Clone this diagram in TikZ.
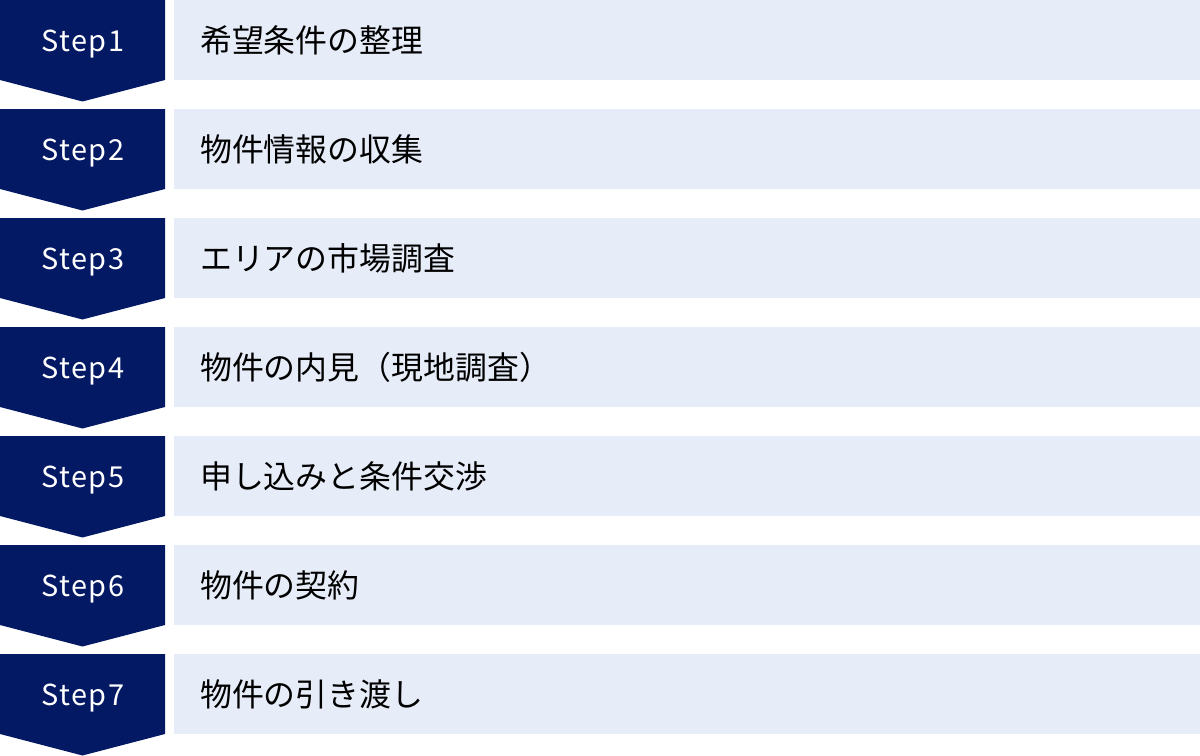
\documentclass[tikz,border=0pt]{standalone}
\usepackage{fontspec}
\setmainfont{Noto Sans}
\newfontfamily\jpfont{Noto Sans CJK JP}
\newfontfamily\stepfont[LetterSpace=5]{Noto Sans CJK JP}
\usetikzlibrary{positioning}
\definecolor{stepnavy}{RGB}{4,25,99}
\definecolor{boxblue}{RGB}{230,236,248}

\begin{document}
\begin{tikzpicture}[x=1bp,y=1bp,
  stepbox/.style={fill=stepnavy},
  taskbox/.style={fill=boxblue},
  steplabel/.style={text=white,font=\stepfont\fontsize{29}{32}\selectfont,anchor=base,inner sep=0pt},
  tasklabel/.style={text=black,font=\jpfont\fontsize{32}{36}\selectfont,anchor=west,inner sep=0pt}]
%%
\useasboundingbox (0,0) rectangle (1200,-756);
\fill [stepbox] (0,0) -- (165,0) -- (165,-80) -- (82.5,-101.5) -- (0,-80) -- cycle;
  \fill [stepbox] (0,-109) -- (165,-109) -- (165,-189) -- (82.5,-210.5) -- (0,-189) -- cycle;
  \fill [stepbox] (0,-218) -- (165,-218) -- (165,-298) -- (82.5,-319.5) -- (0,-298) -- cycle;
  \fill [stepbox] (0,-327) -- (165,-327) -- (165,-407) -- (82.5,-428.5) -- (0,-407) -- cycle;
  \fill [stepbox] (0,-436) -- (165,-436) -- (165,-516) -- (82.5,-537.5) -- (0,-516) -- cycle;
  \fill [stepbox] (0,-545) -- (165,-545) -- (165,-625) -- (82.5,-646.5) -- (0,-625) -- cycle;
  \fill [stepbox] (0,-654) -- (165,-654) -- (165,-734) -- (82.5,-755.5) -- (0,-734) -- cycle;
  \fill [taskbox] (174,0) rectangle (1200,-80);
  \fill [taskbox] (174,-109) rectangle (1200,-189);
  \fill [taskbox] (174,-218) rectangle (1200,-298);
  \fill [taskbox] (174,-327) rectangle (1200,-407);
  \fill [taskbox] (174,-436) rectangle (1200,-516);
  \fill [taskbox] (174,-545) rectangle (1200,-625);
  \fill [taskbox] (174,-654) rectangle (1200,-734);
%
\node (step_0) at (83,-51.5) [steplabel] {Step1};
  \node (step_1) at (83,-160.5) [steplabel] {Step2};
  \node (step_2) at (83,-269.5) [steplabel] {Step3};
  \node (step_3) at (83,-378.5) [steplabel] {Step4};
  \node (step_4) at (83,-487.5) [steplabel] {Step5};
  \node (step_5) at (83,-596.5) [steplabel] {Step6};
  \node (step_6) at (83,-705.5) [steplabel] {Step7};
  \node (task_0) at (200,-40) [tasklabel] {希望条件の整理};
  \node (task_1) at (200,-149) [tasklabel] {物件情報の収集};
  \node (task_2) at (200,-258) [tasklabel] {エリアの市場調査};
  \node (task_3) at (200,-367) [tasklabel] {物件の内見（現地調査）};
  \node (task_4) at (200,-476) [tasklabel] {申し込みと条件交渉};
  \node (task_5) at (200,-585) [tasklabel] {物件の契約};
  \node (task_6) at (200,-694) [tasklabel] {物件の引き渡し};
%
\end{tikzpicture}
\end{document}
